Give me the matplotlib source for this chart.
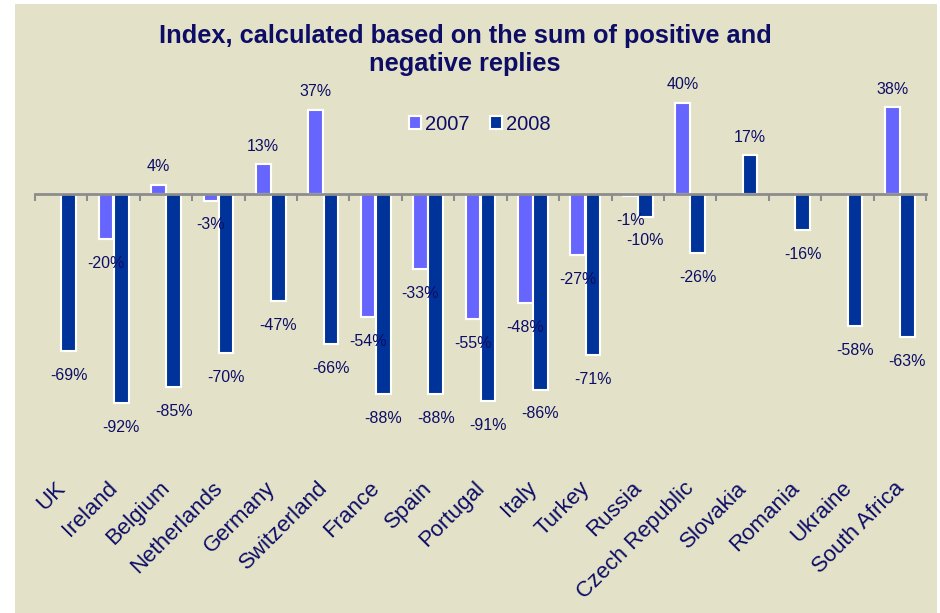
import matplotlib
matplotlib.use("Agg")
import matplotlib.pyplot as plt
import matplotlib.patches as mpatches
import matplotlib.transforms as mtransforms
import numpy as np

plt.rcParams['font.family'] = ['Liberation Sans', 'DejaVu Sans']

countries = ["UK", "Ireland", "Belgium", "Netherlands", "Germany", "Switzerland",
             "France", "Spain", "Portugal", "Italy", "Turkey", "Russia",
             "Czech Republic", "Slovakia", "Romania", "Ukraine", "South Africa"]
vals_2007 = [np.nan, -20, 4, -3, 13, 37, -54, -33, -55, -48, -27, -1, 40,
             np.nan, np.nan, np.nan, 38]
vals_2008 = [-69, -92, -85, -70, -47, -66, -88, -88, -91, -86, -71, -10, -26,
             17, -16, -58, -63]

bg = '#E3E2C9'
txt = '#0D0D66'
c07 = '#6666FF'
c08 = '#003399'

fig = plt.figure(figsize=(9.4, 6.13), dpi=100)
fig.patch.set_facecolor('white')
fig.patches.append(mpatches.Rectangle((15/940, 0), (937-15)/940, (613-4)/613,
                                      transform=fig.transFigure, facecolor=bg,
                                      edgecolor='none', zorder=-10))

ax = fig.add_axes([35/940, 1 - 421.5/613, (926-35)/940, (421.5-80)/613])
ax.set_facecolor('none')
x = np.arange(len(countries))
w = 0.28
ax.bar(x - 0.145, vals_2007, w, color=c07, edgecolor='white', linewidth=1.5, label='2007', zorder=3)
ax.bar(x + 0.145, vals_2008, w, color=c08, edgecolor='white', linewidth=1.5, label='2008', zorder=3)

ax.set_xlim(-0.5, len(countries) - 0.5)
ax.set_ylim(-100, 50)

# value labels
for xs, vals in [(x - 0.145, vals_2007), (x + 0.145, vals_2008)]:
    for xi, v in zip(xs, vals):
        if np.isnan(v):
            continue
        off = 13 if v >= 0 else -17.5
        ax.annotate(f"{v:.0f}%", (xi, v), xytext=(0, off), textcoords='offset points',
                    ha='center', va='center', fontsize=11.5, color=txt, zorder=4)

# zero axis with ticks between categories
for s in ['top', 'right', 'left']:
    ax.spines[s].set_visible(False)
ax.spines['bottom'].set_position(('data', 0))
ax.spines['bottom'].set_color('#8C8C8C')
ax.spines['bottom'].set_linewidth(2)
ax.spines['bottom'].set_zorder(5)
ax.set_xticks(np.arange(-0.5, len(countries), 1.0))
ax.tick_params(axis='x', direction='out', length=5, width=1.5, color='#8C8C8C', labelbottom=False)
ax.set_yticks([])

# category labels
trans = mtransforms.blended_transform_factory(ax.transData, fig.transFigure)
for xi, name in zip(x, countries):
    ax.text(xi + 0.02, 1 - 485/613, name, transform=trans, rotation=45,
            rotation_mode='anchor', ha='right', va='center', fontsize=16, color=txt)

fig.text(465/940, 1 - 50/613, "Index, calculated based on the sum of positive and\nnegative replies",
         ha='center', va='center', fontsize=18.3, fontweight='bold', color=txt, linespacing=1.25)

leg = ax.legend(loc='center', bbox_to_anchor=(480/940, 1 - 124/613), bbox_transform=fig.transFigure,
                ncol=2, frameon=False, fontsize=14.5, handlelength=0.6, handleheight=0.6,
                handletextpad=0.2, columnspacing=1.0)
for t in leg.get_texts():
    t.set_color(txt)

fig.savefig('out.png', dpi=100, facecolor=fig.get_facecolor())
